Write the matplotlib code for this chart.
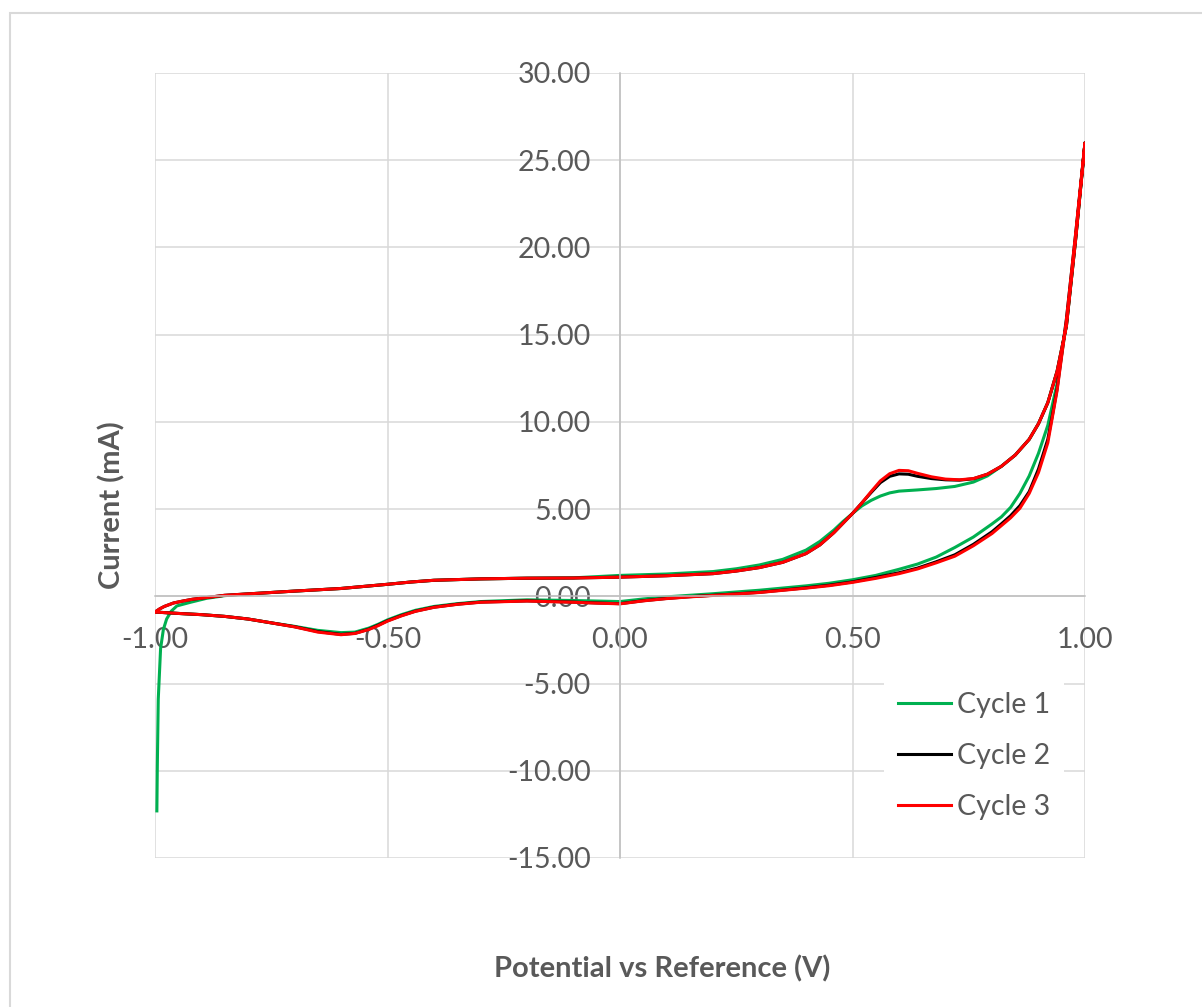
import matplotlib
matplotlib.use("Agg")
import matplotlib.pyplot as plt
from matplotlib.patches import Rectangle
from matplotlib.ticker import FormatStrFormatter, MultipleLocator

plt.rcParams['font.family'] = ['Lato', 'DejaVu Sans']

# cyclic voltammogram, potential (V) and current (mA), forward then reverse sweep
cycle1_v = [-0.996, -0.995, -0.994, -0.993, -0.988, -0.982, -0.975, -0.965, -0.953, -0.925,
            -0.89, -0.85, -0.80, -0.70, -0.60, -0.50, -0.45, -0.40, -0.30, -0.20, -0.10,
            0.00, 0.10, 0.20, 0.25, 0.30, 0.35, 0.40, 0.43, 0.46, 0.48, 0.50, 0.52, 0.54,
            0.56, 0.58, 0.60, 0.64, 0.68, 0.72, 0.76, 0.79, 0.82, 0.85, 0.88, 0.90, 0.92,
            0.94, 0.96, 0.98, 1.00,
            0.98, 0.96, 0.94, 0.92, 0.90, 0.88, 0.86, 0.84, 0.82, 0.80, 0.76, 0.72, 0.68,
            0.64, 0.60, 0.55, 0.50, 0.45, 0.40, 0.30, 0.20, 0.15, 0.10, 0.05, 0.00, -0.05,
            -0.10, -0.20, -0.30, -0.35, -0.40, -0.44, -0.47, -0.50, -0.52, -0.54, -0.57,
            -0.60, -0.65, -0.70, -0.75, -0.80, -0.85, -0.90, -0.95, -1.00]
cycle1_i = [-12.3, -9.7, -7.8, -5.9, -3.0, -1.9, -1.3, -0.85, -0.55, -0.35,
            -0.12, 0.04, 0.14, 0.30, 0.45, 0.69, 0.82, 0.92, 1.00, 1.04, 1.06,
            1.20, 1.28, 1.42, 1.58, 1.80, 2.12, 2.65, 3.15, 3.80, 4.30, 4.75, 5.18, 5.50,
            5.75, 5.93, 6.03, 6.10, 6.18, 6.30, 6.55, 6.90, 7.45, 8.10, 9.00, 9.90, 11.10,
            12.90, 15.50, 20.50, 26.00,
            20.60, 15.60, 12.20, 9.80, 8.20, 6.90, 5.90, 5.10, 4.55, 4.15, 3.40, 2.80, 2.25,
            1.85, 1.55, 1.20, 0.95, 0.75, 0.60, 0.35, 0.15, 0.06, -0.03, -0.15, -0.30, -0.27,
            -0.24, -0.20, -0.30, -0.42, -0.58, -0.80, -1.05, -1.35, -1.60, -1.82, -2.05,
            -2.08, -1.95, -1.72, -1.52, -1.30, -1.15, -1.05, -0.98, -0.90]

cycle2_v = [-1.00, -0.99, -0.98, -0.96, -0.94, -0.92, -0.88, -0.85, -0.80, -0.70, -0.60,
            -0.50, -0.45, -0.40, -0.30, -0.20, -0.10, 0.00, 0.10, 0.20, 0.25, 0.30, 0.35,
            0.40, 0.43, 0.46, 0.48, 0.50, 0.52, 0.54, 0.56, 0.58, 0.60, 0.62, 0.64, 0.67,
            0.70, 0.73, 0.76, 0.79, 0.82, 0.85, 0.88, 0.90, 0.92, 0.94, 0.96, 0.98, 1.00,
            0.98, 0.96, 0.94, 0.93, 0.92, 0.90, 0.88, 0.86, 0.84, 0.82, 0.80, 0.76, 0.72,
            0.68, 0.64, 0.60, 0.55, 0.50, 0.45, 0.40, 0.30, 0.20, 0.15, 0.10, 0.05, 0.00,
            -0.05, -0.10, -0.20, -0.30, -0.35, -0.40, -0.44, -0.47, -0.50, -0.52, -0.54,
            -0.57, -0.60, -0.65, -0.70, -0.75, -0.80, -0.85, -0.90, -0.95, -1.00]
cycle2_i = [-0.90, -0.72, -0.58, -0.38, -0.27, -0.17, -0.04, 0.06, 0.14, 0.30, 0.45,
            0.69, 0.82, 0.92, 1.00, 1.04, 1.05, 1.10, 1.18, 1.30, 1.45, 1.65, 1.95,
            2.45, 2.95, 3.65, 4.20, 4.75, 5.35, 5.95, 6.52, 6.88, 7.02, 7.00, 6.88, 6.75,
            6.68, 6.66, 6.74, 7.00, 7.45, 8.10, 9.00, 9.90, 11.10, 12.90, 15.50, 20.50, 26.00,
            20.80, 15.90, 11.90, 10.40, 9.00, 7.30, 6.00, 5.20, 4.62, 4.15, 3.70, 2.98, 2.38,
            1.98, 1.62, 1.35, 1.08, 0.83, 0.64, 0.49, 0.23, 0.06, -0.02, -0.12, -0.25, -0.42,
            -0.38, -0.33, -0.26, -0.33, -0.45, -0.62, -0.85, -1.10, -1.40, -1.65, -1.88,
            -2.12, -2.18, -2.02, -1.74, -1.52, -1.30, -1.15, -1.05, -0.98, -0.90]

cycle3_v = list(cycle2_v)
cycle3_i = [-0.90, -0.72, -0.58, -0.38, -0.27, -0.17, -0.04, 0.06, 0.14, 0.30, 0.45,
            0.69, 0.82, 0.92, 1.00, 1.04, 1.05, 1.10, 1.18, 1.30, 1.45, 1.65, 1.95,
            2.45, 2.95, 3.65, 4.20, 4.75, 5.35, 6.00, 6.62, 7.03, 7.22, 7.20, 7.05, 6.85,
            6.72, 6.68, 6.75, 7.00, 7.45, 8.10, 9.00, 9.90, 11.10, 12.90, 15.50, 20.50, 26.00,
            20.80, 15.80, 11.80, 10.30, 8.80, 7.10, 5.90, 5.05, 4.50, 4.05, 3.60, 2.90, 2.30,
            1.92, 1.57, 1.30, 1.03, 0.80, 0.61, 0.47, 0.22, 0.05, -0.03, -0.13, -0.26, -0.43,
            -0.39, -0.34, -0.27, -0.34, -0.46, -0.63, -0.86, -1.12, -1.42, -1.68, -1.90,
            -2.13, -2.20, -2.05, -1.75, -1.52, -1.30, -1.15, -1.05, -0.98, -0.90]

labels = ['Cycle 1', 'Cycle 2', 'Cycle 3']
colors = ['#00B050', '#000000', '#FF0000']

grey_text = '#595959'
grid_col = '#D9D9D9'

fig = plt.figure(figsize=(12.02, 10.07), dpi=100)

# chart area border (only the top and left edges fall inside the image)
fig.add_artist(Rectangle((9.5 / 1202, -0.1), 1.2, 1 - 12.5 / 1007 + 0.1, transform=fig.transFigure,
                         fill=False, edgecolor=grid_col, linewidth=1.5))

ax = fig.add_axes([155 / 1202, 1 - 858 / 1007, 930 / 1202, 785 / 1007])

for v, i, lab, c in zip([cycle1_v, cycle2_v, cycle3_v], [cycle1_i, cycle2_i, cycle3_i], labels, colors):
    ax.plot(v, i, color=c, linewidth=2.2, label=lab, solid_joinstyle='round')

ax.set_xlim(-1, 1)
ax.set_ylim(-15, 30)
ax.xaxis.set_major_locator(MultipleLocator(0.5))
ax.yaxis.set_major_locator(MultipleLocator(5))
ax.xaxis.set_major_formatter(FormatStrFormatter('%.2f'))
ax.yaxis.set_major_formatter(FormatStrFormatter('%.2f'))
ax.grid(True, color=grid_col, linewidth=1.1)

for side in ['top', 'right']:
    ax.spines[side].set_visible(False)
ax.spines['left'].set_position(('data', 0))
ax.spines['bottom'].set_position(('data', 0))
for side in ['left', 'bottom']:
    ax.spines[side].set_color('#BFBFBF')
    ax.spines[side].set_linewidth(1.1)

ax.tick_params(axis='both', length=0, labelsize=20.5, labelcolor=grey_text)
ax.tick_params(axis='y', pad=21)
ax.tick_params(axis='x', pad=22)

fig.text(112 / 1202, 1 - 505 / 1007, 'Current (mA)', rotation=90, ha='center', va='center',
         fontsize=21, fontweight='bold', color=grey_text)
fig.text(662 / 1202, 1 - 969 / 1007, 'Potential vs Reference (V)', ha='center', va='center',
         fontsize=21, fontweight='bold', color=grey_text)

leg = ax.legend(loc='upper left', bbox_to_anchor=(884 / 1202, 1 - 678 / 1007),
                bbox_transform=fig.transFigure, fontsize=20.5, frameon=True, fancybox=False,
                framealpha=1, facecolor='white', edgecolor='none', handlelength=1.85,
                handletextpad=0.2, labelspacing=0.88, borderpad=0.5, borderaxespad=0)
for t in leg.get_texts():
    t.set_color(grey_text)

fig.savefig('out.png', dpi=100, facecolor='white')
